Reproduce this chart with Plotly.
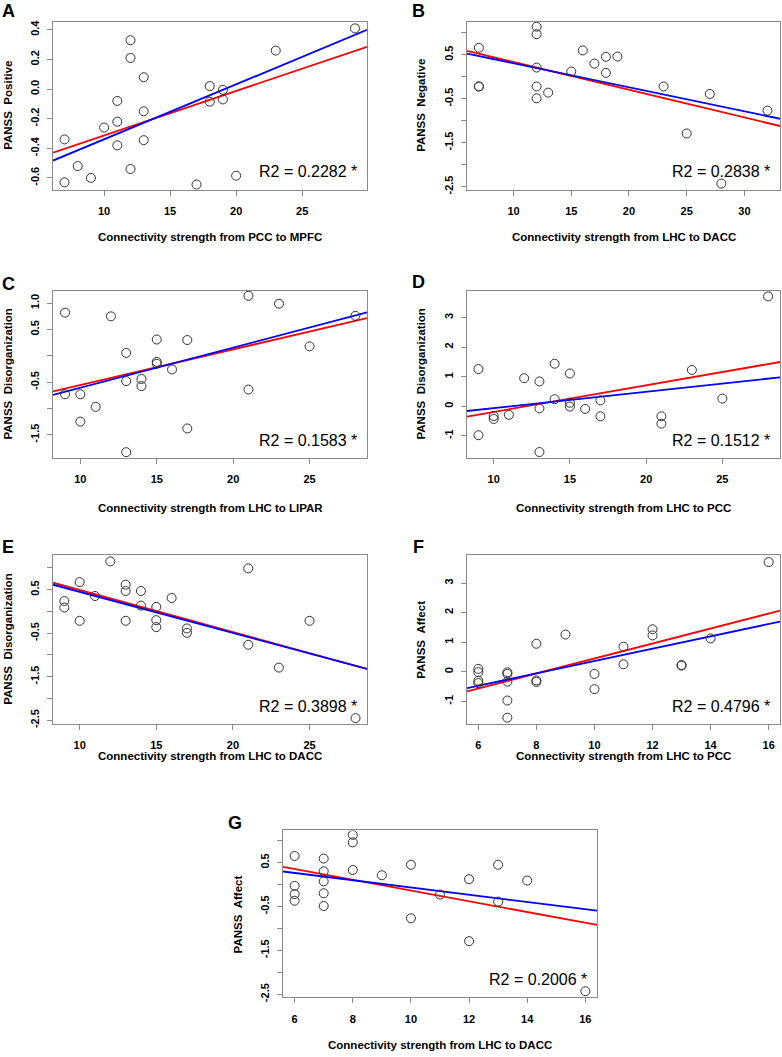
import plotly.graph_objects as go

# ---------------- data ----------------
A_x = [7, 7, 8, 9, 10, 11, 11, 11, 12, 12, 12, 13, 13, 13, 17, 18, 18, 19, 19, 20, 23, 29]
A_y = [-0.34, -0.63, -0.52, -0.60, -0.26, -0.08, -0.22, -0.38, 0.33, 0.21, -0.54, 0.08, -0.15, -0.345,
       -0.645, 0.02, -0.085, -0.005, -0.07, -0.585, 0.26, 0.41]
A_fit_x = [6.13, 29.91]
A_red = [-0.43, 0.286]
A_blue = [-0.483, 0.40]

B_x = [7, 7, 7, 12, 12, 12, 12, 12, 13, 15, 16, 17, 18, 18, 19, 23, 25, 27, 28, 32]
B_y = [0.66, -0.22, -0.22, 1.14, 0.97, 0.21, -0.22, -0.49, -0.36, 0.12, 0.60, 0.30, 0.455, 0.09, 0.46,
       -0.22, -1.29, -0.39, -2.43, -0.77]
B_fit_x = [5.97, 33.08]
B_red = [0.59, -1.12]
B_blue = [0.53, -0.955]

C_x = [9, 9, 10, 10, 11, 12, 13, 13, 13, 14, 14, 15, 15, 15, 16, 17, 17, 21, 21, 23, 25, 28]
C_y = [0.82, -0.73, -0.73, -1.25, -0.97, 0.75, 0.055, -0.48, -1.83, -0.44, -0.575, 0.31, -0.115, -0.15,
       -0.26, 0.30, -1.38, 1.14, -0.64, 0.99, 0.18, 0.76]
C_fit_x = [8.21, 28.76]
C_red = [-0.675, 0.717]
C_blue = [-0.744, 0.824]

D_x = [9, 9, 10, 10, 11, 12, 13, 13, 13, 14, 14, 15, 15, 15, 16, 17, 17, 21, 21, 23, 25, 28]
D_y = [1.26, -0.98, -0.33, -0.43, -0.29, 0.95, 0.84, -0.07, -1.55, 1.44, 0.24, 1.11, 0.12, -0.01,
       -0.09, 0.20, -0.34, -0.34, -0.59, 1.23, 0.26, 3.72]
D_fit_x = [8.25, 28.78]
D_red = [-0.35, 1.50]
D_blue = [-0.16, 0.98]

E_x = [9, 9, 10, 10, 11, 12, 13, 13, 13, 14, 14, 15, 15, 15, 16, 17, 17, 21, 21, 23, 25, 28]
E_y = [0.24, 0.09, 0.675, -0.215, 0.355, 1.15, 0.615, 0.47, -0.215, 0.47, 0.135, 0.105, -0.20, -0.36,
       0.31, -0.39, -0.49, 0.99, -0.765, -1.29, -0.215, -2.45]
E_fit_x = [8.26, 28.75]
E_red = [0.66, -1.32]
E_blue = [0.614, -1.32]

F_x = [6, 6, 6, 6, 7, 7, 7, 7, 7, 8, 8, 8, 9, 10, 10, 11, 11, 12, 12, 13, 13, 14, 16]
F_y = [0.10, -0.01, -0.30, -0.38, -0.015, -0.07, -0.33, -0.97, -1.55, 0.95, -0.29, -0.34, 1.26, -0.07,
       -0.585, 0.85, 0.255, 1.44, 1.23, 0.21, 0.23, 1.13, 3.71]
F_fit_x = [5.61, 16.39]
F_red = [-0.66, 2.07]
F_blue = [-0.55, 1.70]

G_x = [6, 6, 6, 6, 7, 7, 7, 7, 7, 8, 8, 8, 9, 10, 10, 11, 12, 12, 13, 13, 14, 16]
G_y = [0.65, -0.03, -0.22, -0.37, 0.59, 0.30, 0.07, -0.20, -0.49, 1.13, 0.96, 0.33, 0.21, 0.45, -0.77,
       -0.23, 0.12, -1.29, 0.45, -0.39, 0.09, -2.43]
G_fit_x = [5.6, 16.4]
G_red = [0.40, -0.92]
G_blue = [0.296, -0.596]

letters = ["A", "B", "C", "D", "E", "F", "G"]
x_titles = ["Connectivity strength from PCC to MPFC", "Connectivity strength from LHC to DACC",
            "Connectivity strength from LHC to LIPAR", "Connectivity strength from LHC to PCC",
            "Connectivity strength from LHC to DACC", "Connectivity strength from LHC to PCC",
            "Connectivity strength from LHC to DACC"]
y_titles = ["PANSS\u00a0\u00a0Positive", "PANSS\u00a0\u00a0Negative", "PANSS\u00a0\u00a0Disorganization",
            "PANSS\u00a0\u00a0Disorganization", "PANSS\u00a0\u00a0Disorganization", "PANSS\u00a0\u00a0Affect",
            "PANSS\u00a0\u00a0Affect"]
r2_labels = ["R2 = 0.2282 *", "R2 = 0.2838 *", "R2 = 0.1583 *", "R2 = 0.1512 *",
             "R2 = 0.3898 *", "R2 = 0.4796 *", "R2 = 0.2006 *"]

x_ticks = [[10, 15, 20, 25], [10, 15, 20, 25, 30], [10, 15, 20, 25], [10, 15, 20, 25],
           [10, 15, 20, 25], [6, 8, 10, 12, 14, 16], [6, 8, 10, 12, 14, 16]]
y_tickvals = [[-0.6, -0.4, -0.2, 0.0, 0.2, 0.4],
              [-2.5, -2.0, -1.5, -1.0, -0.5, 0.0, 0.5, 1.0],
              [-1.5, -1.0, -0.5, 0.0, 0.5, 1.0],
              [-1, 0, 1, 2, 3],
              [-2.5, -2.0, -1.5, -1.0, -0.5, 0.0, 0.5, 1.0],
              [-1, 0, 1, 2, 3],
              [-2.5, -2.0, -1.5, -1.0, -0.5, 0.0, 0.5, 1.0]]
y_ticktext = [["-0.6", "-0.4", "-0.2", "0.0", "0.2", "0.4"],
              ["-2.5", "", "-1.5", "", "-0.5", "", "0.5", ""],
              ["-1.5", "", "-0.5", "", "0.5", "1.0"],
              ["-1", "0", "1", "2", "3"],
              ["-2.5", "", "-1.5", "", "-0.5", "", "0.5", ""],
              ["-1", "0", "1", "2", "3"],
              ["-2.5", "", "-1.5", "", "-0.5", "", "0.5", ""]]

xs = [A_x, B_x, C_x, D_x, E_x, F_x, G_x]
ys = [A_y, B_y, C_y, D_y, E_y, F_y, G_y]
fit_xs = [A_fit_x, B_fit_x, C_fit_x, D_fit_x, E_fit_x, F_fit_x, G_fit_x]
reds = [A_red, B_red, C_red, D_red, E_red, F_red, G_red]
blues = [A_blue, B_blue, C_blue, D_blue, E_blue, F_blue, G_blue]

# ---------------- layout (pixels) ----------------
W, H = 782, 1057
boxes = [(53, 367, 20, 189), (467, 780, 20, 189),
         (53, 367, 291, 459), (467, 780, 291, 459),
         (53, 367, 557, 727), (467, 780, 557, 727),
         (283, 597, 834, 1002)]
x_ranges = [[6.13, 29.91], [5.97, 33.08], [8.21, 28.76], [8.25, 28.78],
            [8.26, 28.75], [5.61, 16.39], [5.6, 16.4]]
y_ranges = [[-0.68, 0.454], [-2.57, 1.25], [-1.94, 1.23], [-1.75, 3.9],
            [-2.59, 1.29], [-1.77, 3.94], [-2.57, 1.23]]
letter_pos = [(8.5, 9), (418.5, 9), (8, 284), (418.5, 282), (8, 549), (418.5, 549), (235, 826)]
xtitle_y = [237, 237, 509, 509, 759, 759, 1050]
ytitle_x = [8, 421, 8, 421, 8, 421, 237.5]

FONT = "Liberation Sans, Arial, sans-serif"
fig = go.Figure()
annotations = []

def px(x):
    return x / W

def py(y):
    return 1 - y / H

for i in range(7):
    sfx = "" if i == 0 else str(i + 1)
    xa, ya = "x" + sfx, "y" + sfx
    x0, x1, y0, y1 = boxes[i]
    fig.add_trace(go.Scatter(x=fit_xs[i], y=reds[i], mode="lines",
                             line=dict(color="#ff0000", width=1.8), xaxis=xa, yaxis=ya,
                             showlegend=False, hoverinfo="skip"))
    fig.add_trace(go.Scatter(x=fit_xs[i], y=blues[i], mode="lines",
                             line=dict(color="#0000ff", width=1.8), xaxis=xa, yaxis=ya,
                             showlegend=False, hoverinfo="skip"))
    fig.add_trace(go.Scatter(x=xs[i], y=ys[i], mode="markers",
                             marker=dict(symbol="circle-open", size=9, color="#333333",
                                         line=dict(width=1)),
                             xaxis=xa, yaxis=ya, showlegend=False))
    common = dict(showline=True, mirror=True, linecolor="#8a8a8a", linewidth=1,
                  ticks="outside", ticklen=5, tickcolor="#8a8a8a", tickwidth=1,
                  showgrid=False, zeroline=False,
                  tickfont=dict(family=FONT, size=11, color="black", weight="bold"))
    fig.layout["xaxis" + sfx] = dict(domain=[px(x0), px(x1)], anchor=ya, range=x_ranges[i],
                                     tickvals=x_ticks[i], ticktext=[str(v) for v in x_ticks[i]],
                                     ticklabelstandoff=6, **common)
    fig.layout["yaxis" + sfx] = dict(domain=[py(y1), py(y0)], anchor=xa, range=y_ranges[i],
                                     tickvals=y_tickvals[i], ticktext=y_ticktext[i],
                                     tickangle=-90, ticklabelstandoff=4, **common)
    annotations.append(dict(text=letters[i], x=px(letter_pos[i][0]), y=py(letter_pos[i][1]),
                            xref="paper", yref="paper", showarrow=False, xanchor="center",
                            yanchor="middle",
                            font=dict(family=FONT, size=18, color="black", weight="bold")))
    annotations.append(dict(text=x_titles[i], x=px((x0 + x1) / 2), y=py(xtitle_y[i]),
                            xref="paper", yref="paper", showarrow=False, xanchor="center",
                            yanchor="middle",
                            font=dict(family=FONT, size=11.5, color="black", weight="bold")))
    annotations.append(dict(text=y_titles[i], x=px(ytitle_x[i]), y=py((y0 + y1) / 2),
                            xref="paper", yref="paper", showarrow=False, xanchor="center",
                            yanchor="middle", textangle=-90,
                            font=dict(family=FONT, size=11.5, color="black", weight="bold")))
    annotations.append(dict(text=r2_labels[i], x=px(x1 - 8), y=py(y1 - 18),
                            xref="paper", yref="paper", showarrow=False, xanchor="right",
                            yanchor="middle",
                            font=dict(family=FONT, size=16, color="black")))

fig.update_layout(width=W, height=H, margin=dict(l=0, r=0, t=0, b=0),
                  paper_bgcolor="white", plot_bgcolor="white",
                  annotations=annotations, showlegend=False)

fig.write_html("out.html", config={"displayModeBar": False},
               post_script="document.body.style.margin='0';document.body.style.overflow='hidden';")
